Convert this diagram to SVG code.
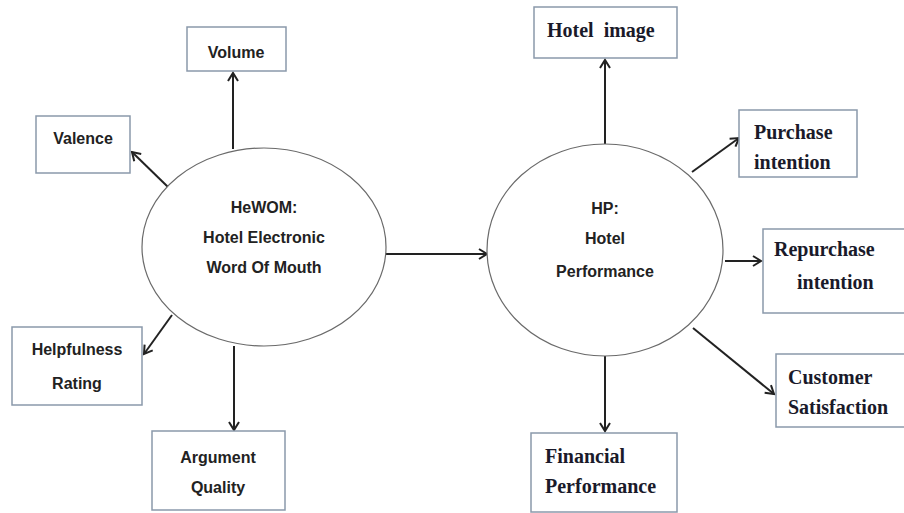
<svg xmlns="http://www.w3.org/2000/svg" width="904" height="513" viewBox="0 0 904 513">
<style>
.box{fill:#fff;stroke:#8a99ab;stroke-width:1.5}
.ell{fill:#fff;stroke:#6a6a6a;stroke-width:1.2}
.con{stroke:#222;stroke-width:2;fill:none}
.sans{font-family:"Liberation Sans",Arial,sans-serif;font-weight:bold;font-size:16px;fill:#222;text-anchor:middle}
.serif{font-family:"Liberation Serif","Times New Roman",serif;font-weight:bold;font-size:20px;fill:#1a1a2a}
</style>
<defs>
<marker id="arr" markerWidth="14" markerHeight="14" refX="9" refY="6" orient="auto" markerUnits="userSpaceOnUse">
<path d="M1,1 L9,6 L1,11" fill="none" stroke="#222" stroke-width="2"/>
</marker>
</defs>
<rect width="904" height="513" fill="#fff"/>
<g id="connectors">
<line class="con" x1="233" y1="149" x2="233" y2="73" marker-end="url(#arr)"/>
<line class="con" x1="168" y1="187" x2="132" y2="152" marker-end="url(#arr)"/>
<line class="con" x1="172" y1="315" x2="144" y2="354" marker-end="url(#arr)"/>
<line class="con" x1="234" y1="346" x2="234" y2="430" marker-end="url(#arr)"/>
<line class="con" x1="385" y1="254" x2="487" y2="254" marker-end="url(#arr)"/>
<line class="con" x1="605" y1="144" x2="605" y2="60" marker-end="url(#arr)"/>
<line class="con" x1="692" y1="172" x2="739" y2="138" marker-end="url(#arr)"/>
<line class="con" x1="725" y1="261" x2="761" y2="261" marker-end="url(#arr)"/>
<line class="con" x1="693" y1="328" x2="774" y2="394" marker-end="url(#arr)"/>
<line class="con" x1="605" y1="356" x2="605" y2="431" marker-end="url(#arr)"/>
</g>
<g id="hewom">
<ellipse class="ell" cx="264" cy="247" rx="122" ry="99"/>
<text class="sans" x="264" y="213">HeWOM:</text>
<text class="sans" x="264" y="243">Hotel Electronic</text>
<text class="sans" x="264" y="273">Word Of Mouth</text>
</g>
<g id="hp">
<ellipse class="ell" cx="605" cy="250" rx="118" ry="106"/>
<text class="sans" x="605" y="214">HP:</text>
<text class="sans" x="605" y="244">Hotel</text>
<text class="sans" x="605" y="277">Performance</text>
</g>
<g id="volume">
<rect class="box" x="187" y="27" width="99" height="44"/>
<text class="sans" x="236" y="58">Volume</text>
</g>
<g id="valence">
<rect class="box" x="36" y="116" width="94" height="57"/>
<text class="sans" x="83" y="144">Valence</text>
</g>
<g id="helpfulness">
<rect class="box" x="12" y="327" width="130" height="78"/>
<text class="sans" x="77" y="355">Helpfulness</text>
<text class="sans" x="77" y="389">Rating</text>
</g>
<g id="argument">
<rect class="box" x="152" y="431" width="133" height="79"/>
<text class="sans" x="218" y="463">Argument</text>
<text class="sans" x="218" y="493">Quality</text>
</g>
<g id="hotel-image">
<rect class="box" x="534" y="7" width="143" height="51"/>
<text class="serif" x="547" y="37" xml:space="preserve">Hotel  image</text>
</g>
<g id="purchase">
<rect class="box" x="739" y="110" width="118" height="67"/>
<text class="serif" x="754" y="139">Purchase</text>
<text class="serif" x="754" y="169">intention</text>
</g>
<g id="repurchase">
<rect class="box" x="763" y="229" width="150" height="84"/>
<text class="serif" x="774" y="256">Repurchase</text>
<text class="serif" x="797" y="289">intention</text>
</g>
<g id="customer">
<rect class="box" x="776" y="354" width="140" height="73"/>
<text class="serif" x="788" y="384">Customer</text>
<text class="serif" x="788" y="414">Satisfaction</text>
</g>
<g id="financial">
<rect class="box" x="531" y="433" width="146" height="79"/>
<text class="serif" x="545" y="463">Financial</text>
<text class="serif" x="545" y="493">Performance</text>
</g>
</svg>
